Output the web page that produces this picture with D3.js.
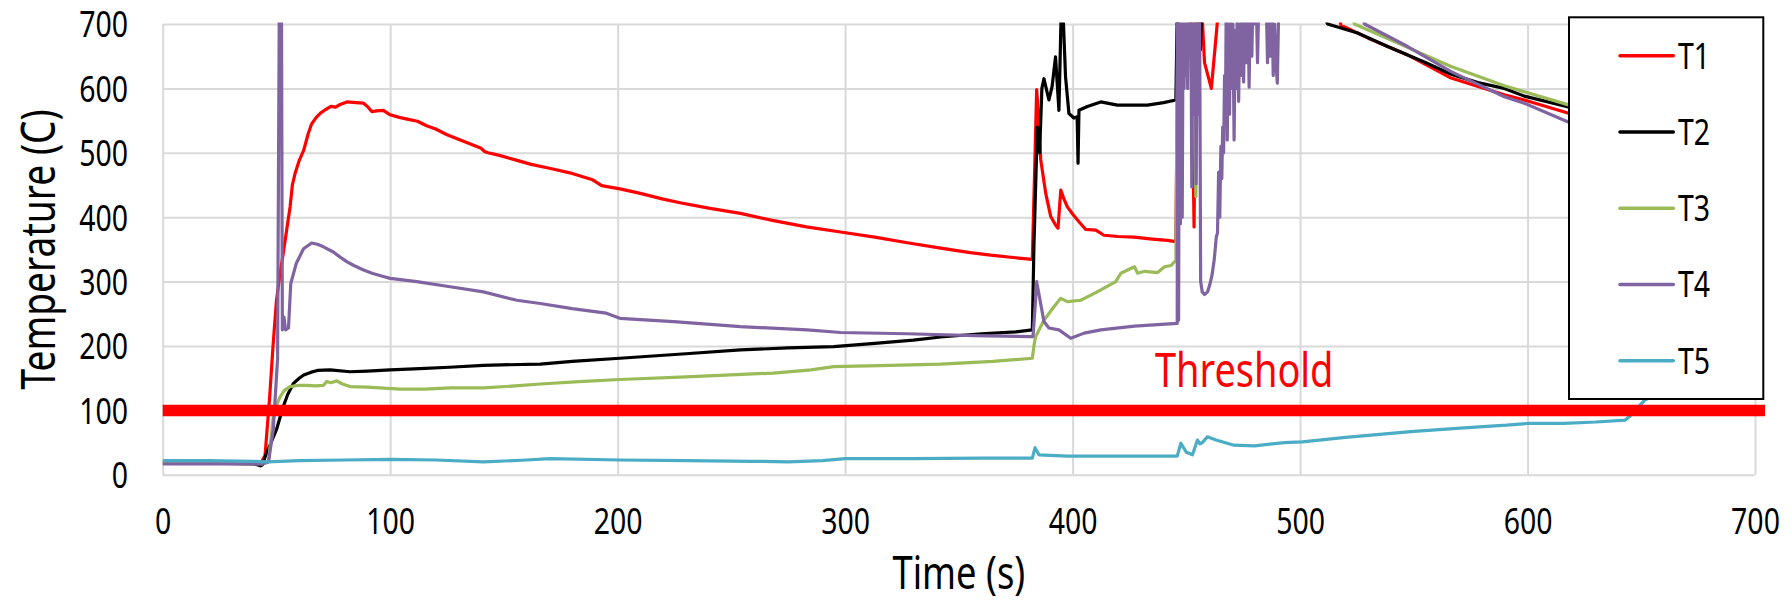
<!doctype html>
<html lang="en">
<head>
  <meta charset="UTF-8">
  <title>Temperature vs Time</title>
  <script src="https://d3js.org/d3.v7.min.js"></script>
  <style>
    body { margin: 0; background: #fff; }
    text { font-family: "Noto Sans", "Open Sans", sans-serif; }
  </style>
</head>
<body>
  <div id="chart"></div>
  <script type="text/javascript">
    // series names
    var seriesNames = ["T1", "T2", "T3", "T4", "T5"];
    var thresholdValue = 100;
    var thresholdLabel = "Threshold";
    var xTicks = [0, 100, 200, 300, 400, 500, 600, 700];
    var yTicks = [0, 100, 200, 300, 400, 500, 600, 700];

    // [time (s), temperature (C)], values above 700 run off the top of the plot
    var t1 = [[0,19],[20,19],[40,18],[43,17],[45,30],[47,120],[48.5,200],[50,270],[51.5,310],[53,344],[54.5,380],[56,416],[57,450],[58.2,468],[60,488],[62,504],[64,530],[65.5,545],[67.5,555],[69.5,562],[72,568],[74,572],[76,571],[78,575],[81,579],[85,578],[88.3,577],[90,572],[91.9,564],[94,565],[97,566],[100,559],[104,555],[108,552],[112,549],[116,542],[120,537],[125,528],[130,521],[135,514],[140,507],[141.5,502],[143,500],[148,496],[155,489],[162,482],[170,476],[180,468],[189,458],[193,449],[196,447],[201,444],[210,437],[220,428],[228,422],[240,414],[254,406],[268,395],[283,385],[298,377],[313,369],[328,360],[342,352],[355,345],[364,341],[375,337],[382.3,334.5],[383.3,470],[384.2,598],[385,560],[386,489],[388.2,437],[390.4,401],[392.5,388],[393.6,383],[394.8,442],[396,430],[397.7,416],[400,405],[402.8,393],[405.8,381],[410.2,380],[413.8,372],[420,370],[427,369],[435,366],[441.7,364],[445.4,362],[446.5,760],[451,760],[452.4,650],[453.4,385],[454.4,760],[456.3,760],[458,640],[461,600],[463.7,705],[465,760],[514,760],[518,698],[530,678],[547.3,652],[566.4,616],[580,601],[589.8,590],[598.6,582],[618.4,561],[640,540],[660,520],[680,500],[700,480]];
    var t2 = [[0,18],[20,18],[40,17],[43,14],[44,16],[45,28],[47,45],[50,70],[53,106],[55,125],[57.5,142],[60,150],[62,155],[65,159],[68,162],[73.6,163],[82.4,160],[90,161],[100,163],[113,165],[126,167],[141,170],[166,172],[180,176],[201,181],[230,188],[254,194],[275,197],[295,199],[313,204],[330,209],[342,214],[360,219],[375,222],[382.3,225],[383,354],[384.5,540],[385.5,500],[386.5,600],[387.4,615],[389.6,582],[391,603],[392.5,649],[394,566],[395,720],[396,700],[396.9,618],[398.4,561],[400.6,554],[402,556],[402.4,484],[402.8,566],[406.5,572],[412.4,579],[419.7,574],[432.9,574],[440,578],[445.4,582],[446.2,760],[455.3,760],[456.2,660],[457,760],[505,760],[512.1,700],[525.3,686],[538.5,665],[554.6,641],[566.4,622],[578.2,609],[589.8,600],[598.6,588],[618.4,571],[640,548],[660,528],[680,508],[700,490]];
    var t3 = [[0,18],[20,18],[44,17],[46.5,20],[48.6,90],[50,108],[51.6,121],[53.5,131],[56,137],[60,139],[63.3,139],[67,138],[70.7,139],[72.1,145],[74,143],[76.5,146],[79,141],[82.4,137],[90,136],[104.4,133],[115,133],[126.4,135],[141,135],[155,138],[166,141],[185,145],[201,148],[230,152],[268.6,158],[285,163],[295,168],[320,170],[342,172],[365,176],[382.3,181],[383,200],[383.7,214],[387.4,240],[391.8,261],[394.8,274],[397.7,269],[403.6,271],[408,279],[412.4,287],[419,300],[421.2,313],[424.2,318],[427.2,323],[428.6,313],[431.6,316],[437.4,314],[440.4,323],[443.3,325],[445.4,333],[446.3,760],[452.6,760],[453.5,560],[454.2,432],[455,760],[520,760],[523.9,700],[540,675],[566.4,634],[589.8,604],[618.4,574],[640,553],[660,535],[680,516],[700,498]];
    var t4 = [[0,17],[20,17],[44,17],[46.5,20],[48.6,70],[50.5,180],[51.3,760],[52.2,760],[52.6,225],[53.3,245],[54,225],[55.3,228],[56.3,297],[58.7,328],[61.9,351],[65.5,360],[68,358],[70.7,354],[75,346],[78,338],[80.9,331],[84,325],[88.3,318],[92,313],[97,308],[100,305],[111.7,300],[126.4,292],[141,284],[155.7,271],[166,266],[180,258],[195,251],[201,243],[210,241],[224.6,238],[254,230],[283.3,225],[298,221],[327.3,219],[356.6,216],[382.6,214.5],[383.5,260],[384.2,300],[385.7,271],[387.4,238],[389.6,228],[394,225],[399.2,212],[405.1,220],[412.4,225],[427.2,231],[446,235],[446.2,760],[446.6,240],[447,760],[447.4,390],[447.8,760],[448.2,400],[448.6,720],[449,600],[449.4,720],[449.8,620],[450.2,720],[450.6,600],[451,760],[451.6,700],[452,760],[452.4,447],[452.8,760],[453.3,560],[453.8,760],[454.3,452],[454.8,720],[455.3,560],[455.8,760],[456.3,300],[457,284],[458,280],[459.3,284],[460.3,295],[461.3,310],[462.3,335],[463.2,370],[463.7,375],[464.2,470],[464.7,400],[465.2,510],[465.6,460],[466,540],[466.4,500],[466.8,620],[467.2,560],[467.6,760],[468,520],[468.5,700],[469,560],[469.5,760],[470,600],[470.5,700],[471,520],[471.5,690],[472,600],[472.5,760],[473,580],[473.5,700],[474,620],[474.6,760],[475.2,610],[475.8,760],[476.4,640],[477,760],[477.6,602],[478.2,760],[478.8,650],[479.4,760],[480,700],[480.6,760],[481.3,640],[482,760],[485,760],[485.7,640],[486.3,760],[486.9,650],[487.5,760],[488.2,620],[488.8,700],[489.4,640],[490,608],[490.8,760],[525,760],[528.3,700],[547.3,665],[566.4,626],[589.8,587],[598.6,577],[618.4,547],[640,524],[660,505],[680,486],[700,468]];
    var t5 = [[0,22],[20,22],[40,21],[46,20],[60,22],[80,23],[100,24],[120,23],[141,20],[160,23],[170.4,25],[201,23],[230,22],[260,21],[275,20],[290,22],[300,25],[330,25],[360,26],[382.3,26],[383.5,42],[385.2,31],[397.7,29],[420,29],[446,29],[447.6,49],[450,35],[452.7,31],[454.9,54],[456,48],[457,50],[459.3,59],[463,54],[471,46],[480,45],[493,50],[501,51],[520,58],[548.7,67],[572,73],[590.8,77],[601,80],[616,80],[630,82],[643,85],[644.7,90],[651.5,116],[660,130],[680,150],[700,165]];

    var seriesData = [t1, t2, t3, t4, t5];
    var colors = ["#FF0000", "#000000", "#9BBB59", "#8064A2", "#4BACC6"];

    var width = 1792, height = 603;
    var plotLeft = 162.7, plotRight = 1755, plotTop = 24, plotBottom = 474.8;
    var squeeze = 0.79; // the fonts in the picture are condensed

    var xScale = d3.scaleLinear().domain([0, 700]).range([plotLeft, plotRight]);
    var yScale = d3.scaleLinear().domain([0, 700]).range([plotBottom, plotTop]);

    var svg = d3.select("#chart").append("svg")
      .attr("width", width)
      .attr("height", height);

    // vertical grid + x tick labels
    var xAxis = d3.axisBottom(xScale).tickValues(xTicks).tickSize(-(plotBottom - plotTop)).tickSizeOuter(0);
    var gx = svg.append("g")
      .attr("transform", "translate(0," + plotBottom + ")")
      .call(xAxis);
    gx.select(".domain").remove();
    gx.selectAll("line").attr("stroke", "#D9D9D9").attr("stroke-width", 2);
    gx.selectAll("text")
      .attr("y", 59.2)
      .attr("dy", 0)
      .attr("fill", "#000")
      .style("font-size", "36px")
      .attr("transform", "scale(" + squeeze + ",1)");

    // horizontal grid + y tick labels
    var yAxis = d3.axisLeft(yScale).tickValues(yTicks).tickSize(-(plotRight - plotLeft)).tickSizeOuter(0);
    var gy = svg.append("g")
      .attr("transform", "translate(" + plotLeft + ",0)")
      .call(yAxis);
    gy.select(".domain").remove();
    gy.selectAll("line").attr("stroke", "#D9D9D9").attr("stroke-width", 2);
    gy.selectAll("text")
      .attr("x", -34.7 / squeeze)
      .attr("dy", "0.36em")
      .attr("fill", "#000")
      .style("font-size", "36px")
      .attr("transform", "scale(" + squeeze + ",1)");

    // axis titles
    svg.append("text")
      .attr("transform", "translate(" + xScale(350) + ",589) scale(" + squeeze + ",1)")
      .attr("text-anchor", "middle")
      .style("font-size", "46px")
      .text("Time (s)");
    svg.append("text")
      .attr("transform", "translate(55," + yScale(350) + ") rotate(-90) scale(" + squeeze + ",1)")
      .attr("text-anchor", "middle")
      .style("font-size", "47px")
      .text("Temperature (C)");

    // lines, clipped to the plot area
    svg.append("clipPath").attr("id", "plotClip")
      .append("rect")
        .attr("x", plotLeft)
        .attr("y", plotTop - 1.5)
        .attr("width", plotRight - plotLeft)
        .attr("height", plotBottom - plotTop + 1.5);

    var line = d3.line()
      .x(function(d){ return xScale(d[0]); })
      .y(function(d){ return yScale(d[1]); });

    svg.append("g")
      .attr("clip-path", "url(#plotClip)")
      .selectAll("path")
      .data(seriesData)
      .enter()
      .append("path")
        .attr("d", line)
        .attr("fill", "none")
        .attr("stroke", function(d, i){ return colors[i]; })
        .attr("stroke-width", 3.2)
        .attr("stroke-linejoin", "round");

    // threshold band and its label
    svg.append("line")
      .attr("x1", xScale(0))
      .attr("x2", xScale(700) + 10)
      .attr("y1", yScale(thresholdValue))
      .attr("y2", yScale(thresholdValue))
      .attr("stroke", "#FF0000")
      .attr("stroke-width", 11.5);
    svg.append("text")
      .attr("transform", "translate(1155,386.7) scale(" + squeeze + ",1)")
      .attr("fill", "#FF0000")
      .style("font-size", "48px")
      .text(thresholdLabel);

    // legend
    var legend = svg.append("g");
    legend.append("rect")
      .attr("x", 1569)
      .attr("y", 17.3)
      .attr("width", 194.3)
      .attr("height", 381.7)
      .attr("fill", "#fff")
      .attr("stroke", "#000")
      .attr("stroke-width", 2);
    var items = legend.selectAll("g.item")
      .data(seriesNames)
      .enter()
      .append("g")
        .attr("class", "item")
        .attr("transform", function(d, i){ return "translate(0," + (55.7 + i * 76.25) + ")"; });
    items.append("line")
      .attr("x1", 1620)
      .attr("x2", 1673.3)
      .attr("stroke", function(d, i){ return colors[i]; })
      .attr("stroke-width", 3.5)
      .attr("stroke-linecap", "round");
    items.append("text")
      .attr("transform", "translate(1678,12.8) scale(" + squeeze + ",1)")
      .style("font-size", "36px")
      .text(function(d){ return d; });
  </script>
</body>
</html>
